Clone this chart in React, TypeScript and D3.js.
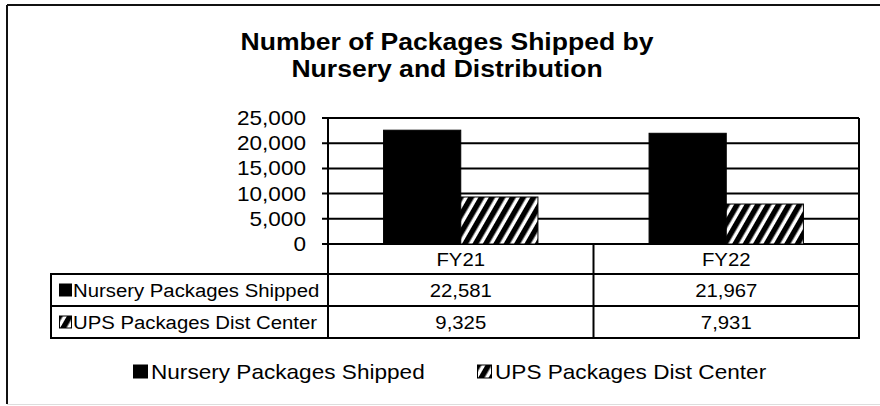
import React from "react";
import * as d3 from "d3";

const categories = ["FY21", "FY22"];
const seriesNames = ["Nursery Packages Shipped", "UPS Packages Dist Center"];
const nurseryValues = [22581, 21967];
const upsValues = [9325, 7931];
const yTicks = [0, 5000, 10000, 15000, 20000, 25000];
const titleLines = ["Number of Packages Shipped by", "Nursery and Distribution"];

const W = 880;
const H = 406;
const SX = 1.13;
const FONT = "'Liberation Sans', Arial, sans-serif";

const plot = { left: 328, right: 859, top: 118, bottom: 244 };
const table = { left: 51, rows: [244, 274, 306, 338] };

type TProps = {
  x: number;
  y: number;
  size: number;
  anchor?: "start" | "middle" | "end";
  bold?: boolean;
  children: React.ReactNode;
};
const T = ({ x, y, size, anchor = "start", bold = false, children }: TProps) => (
  <text
    transform={`translate(${x},${y}) scale(${SX},1)`}
    textAnchor={anchor}
    fontSize={size}
    fontWeight={bold ? "bold" : "normal"}
    fontFamily={FONT}
    fill="#000"
  >
    {children}
  </text>
);

export default function App() {
  const fmt = d3.format(",");
  const y = d3.scaleLinear().domain([0, 25000]).range([plot.bottom, plot.top]);
  const x0 = d3.scaleBand<string>().domain(categories).range([plot.left, plot.right]).padding(0);
  const x1 = d3
    .scaleBand<string>()
    .domain(seriesNames)
    .range([0, x0.bandwidth()])
    .paddingInner(0)
    .paddingOuter(0.72);
  const seriesValues = [nurseryValues, upsValues];
  const fills = ["#000", "url(#hatch)"];

  const rowCenters = [0, 1, 2].map((i) => (table.rows[i] + table.rows[i + 1]) / 2);

  const legendItems = [
    { x: 133, name: seriesNames[0], fill: fills[0] },
    { x: 477, name: seriesNames[1], fill: fills[1] },
  ];

  return (
    <svg
      width={W}
      height={H}
      viewBox={`0 0 ${W} ${H}`}
      style={{ position: "absolute", left: 0, top: 0, display: "block", background: "#fff" }}
    >
      <defs>
        <pattern id="hatch" width={9} height={9} patternUnits="userSpaceOnUse" patternTransform="rotate(30)">
          <rect width={9} height={9} fill="#fff" />
          <rect width={5.5} height={9} fill="#000" />
        </pattern>
      </defs>
      <rect x={0} y={0} width={W} height={H} fill="#fff" />
      {/* outer chart border (left & top visible) */}
      <line x1={7} y1={5} x2={W} y2={5} stroke="#111" strokeWidth={2} />
      <line x1={7} y1={5} x2={7} y2={404} stroke="#111" strokeWidth={2} />
      <line x1={7} y1={404.5} x2={W} y2={404.5} stroke="#ddd" strokeWidth={1} />

      {/* title */}
      <T x={447} y={50} size={23.5} anchor="middle" bold>
        {titleLines[0]}
      </T>
      <T x={447} y={77} size={23.5} anchor="middle" bold>
        {titleLines[1]}
      </T>

      {/* gridlines */}
      {yTicks.map((t) => (
        <g key={t}>
          <line x1={plot.left - 6} x2={plot.right} y1={y(t)} y2={y(t)} stroke="#000" strokeWidth={2} />
          <T x={306} y={y(t) + 7} size={20} anchor="end">
            {fmt(t)}
          </T>
        </g>
      ))}

      {/* bars */}
      {categories.map((c, ci) =>
        seriesNames.map((s, si) => {
          const v = seriesValues[si][ci];
          const bx = (x0(c) as number) + (x1(s) as number);
          return (
            <rect
              key={c + s}
              x={bx}
              y={y(v)}
              width={x1.bandwidth()}
              height={y(0) - y(v)}
              fill={fills[si]}
              stroke="#000"
              strokeWidth={1}
            />
          );
        })
      )}

      {/* plot right border */}
      <line x1={plot.right} x2={plot.right} y1={plot.top} y2={plot.bottom} stroke="#000" strokeWidth={2} />

      {/* table */}
      {/* vertical lines */}
      <line x1={plot.left} x2={plot.left} y1={plot.top} y2={table.rows[3]} stroke="#000" strokeWidth={2} />
      {categories.map((c) => {
        const xr = (x0(c) as number) + x0.bandwidth();
        return <line key={"v" + c} x1={xr} x2={xr} y1={plot.bottom} y2={table.rows[3]} stroke="#000" strokeWidth={2} />;
      })}
      <line x1={table.left} x2={table.left} y1={table.rows[1]} y2={table.rows[3]} stroke="#000" strokeWidth={2} />
      {/* horizontal lines */}
      {[1, 2, 3].map((i) => (
        <line
          key={"h" + i}
          x1={table.left - 1}
          x2={plot.right + 1}
          y1={table.rows[i]}
          y2={table.rows[i]}
          stroke="#000"
          strokeWidth={2}
        />
      ))}
      {/* header row */}
      {categories.map((c) => (
        <T key={"cat" + c} x={(x0(c) as number) + x0.bandwidth() / 2} y={rowCenters[0] + 6.5} size={18} anchor="middle">
          {c}
        </T>
      ))}
      {/* data rows */}
      {seriesNames.map((s, si) => (
        <g key={"row" + s}>
          <rect
            x={59.5}
            y={rowCenters[si + 1] - 6}
            width={12}
            height={12}
            fill={fills[si]}
            stroke="#000"
            strokeWidth={1}
          />
          <T x={73} y={rowCenters[si + 1] + 6.5} size={18}>
            {s}
          </T>
          {categories.map((c, ci) => (
            <T
              key={"val" + s + c}
              x={(x0(c) as number) + x0.bandwidth() / 2}
              y={rowCenters[si + 1] + 6.5}
              size={18}
              anchor="middle"
            >
              {fmt(seriesValues[si][ci])}
            </T>
          ))}
        </g>
      ))}

      {/* legend */}
      {legendItems.map((it) => (
        <g key={"lg" + it.name}>
          <rect x={it.x + 0.5} y={365} width={14} height={13} fill={it.fill} stroke="#000" strokeWidth={1} />
          <T x={it.x + 18} y={378.5} size={20}>
            {it.name}
          </T>
        </g>
      ))}
    </svg>
  );
}
